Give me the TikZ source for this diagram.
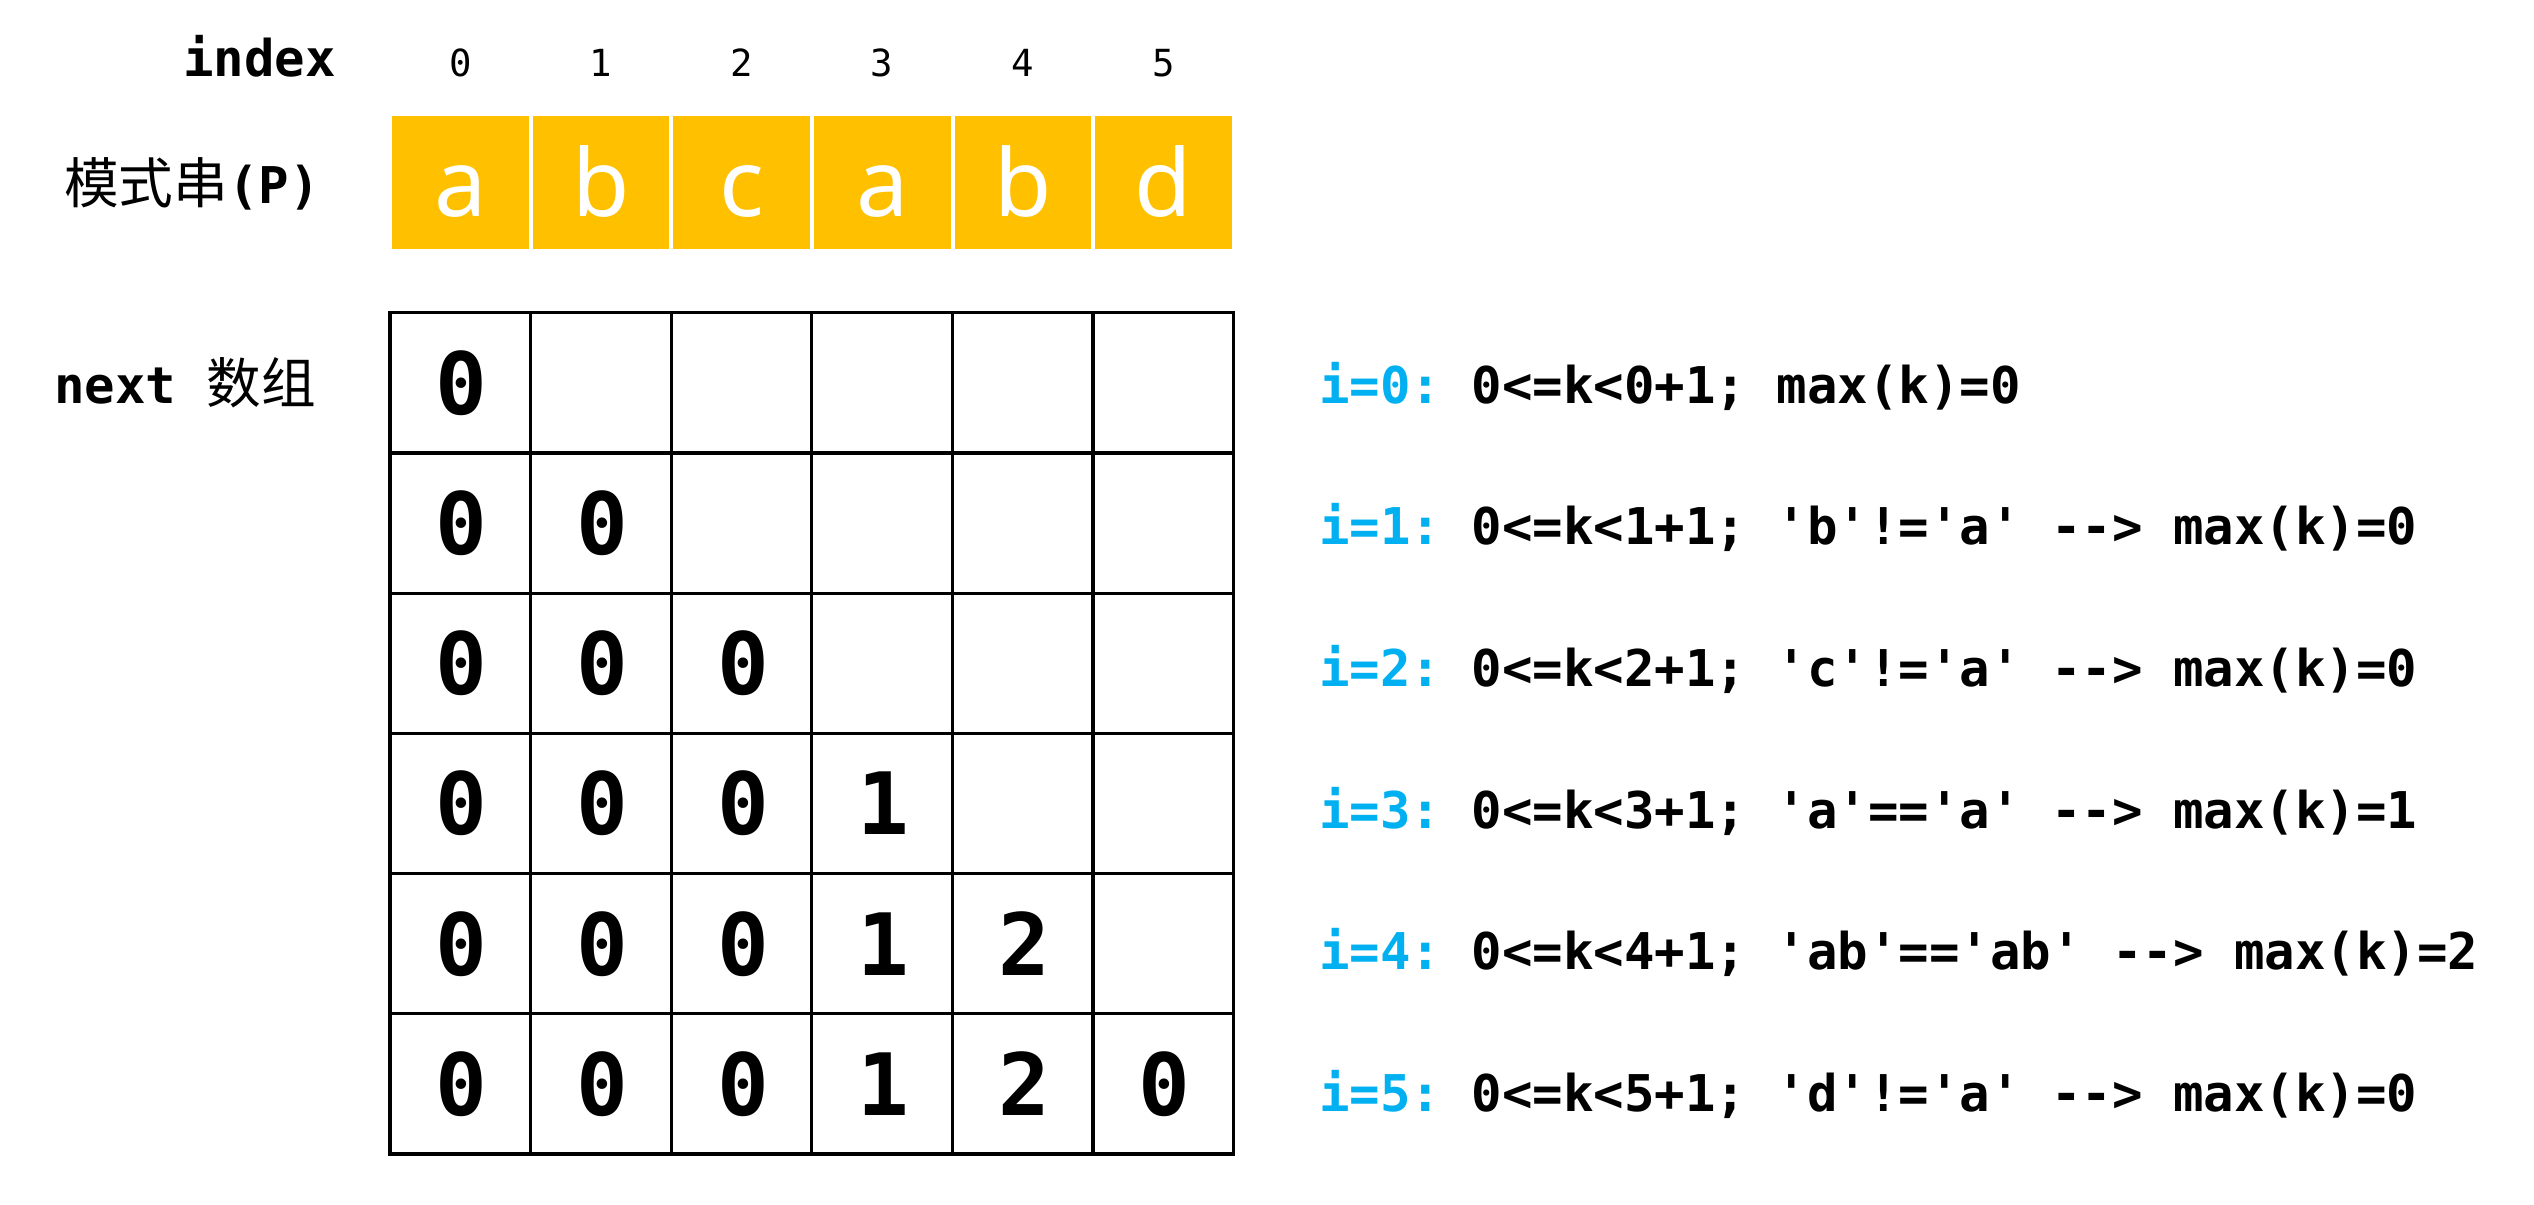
\documentclass[tikz,border=0pt]{standalone}
\usepackage{fontspec}
\setmainfont{Noto Sans}
\setmonofont{DejaVu Sans Mono}
\newfontfamily\cjkfont{Noto Sans CJK SC}
\definecolor{pgold}{HTML}{FFC000}
\definecolor{pblue}{HTML}{00B0F0}
\tikzset{
  gridline/.style={line width=2.4pt, draw=black},
  ycell/.style={fill=pgold, draw=white, line width=3pt},
  yletter/.style={text=white, inner sep=0pt, anchor=base, font=\fontsize{70}{72}\selectfont},
  idxnum/.style={inner sep=0pt, anchor=base, font=\ttfamily\fontsize{28}{30}\selectfont},
  lbl/.style={inner sep=0pt, anchor=base west, font=\ttfamily\bfseries\fontsize{38}{40}\selectfont},
  gridnum/.style={inner sep=0pt, font=\ttfamily\bfseries\fontsize{64.5}{66}\selectfont},
  codeline/.style={inner sep=0pt, anchor=base west, font=\ttfamily\bfseries\fontsize{38}{40}\selectfont},
}
\newcommand{\cjktext}[1]{{\cjkfont\mdseries\fontsize{41}{43}\selectfont #1}}
\begin{document}
\begin{tikzpicture}[x=0.75pt,y=-0.75pt]
\useasboundingbox[fill=white] (0,0) rectangle (2534,1204);
% index row
\node[inner sep=0pt, anchor=base east, font=\ttfamily\bfseries\fontsize{38}{40}\selectfont] (idx) at (336,76) {index};
\foreach \c in {0,...,5}
  \node[idxnum] (i\c) at ({390+140.6*(\c+0.5)},76) {\c};
% pattern row
\node[lbl] (pat) at (64,203) {\cjktext{模式串}(P)};
\foreach \c/\ch in {0/a,1/b,2/c,3/a,4/b,5/d} {
  \path[ycell] ({390+140.67*\c},114) rectangle ({390+140.67*(\c+1)},250.7);
  \node[yletter] (p\c) at ({390+140.67*(\c+0.5)},216) {\ch};
}
% next label
\node[lbl] (nxt) at (54,403) {next \cjktext{数组}};
% grid
\draw[gridline] (390,312.7) rectangle (1233.6,1154);
\foreach \i in {1,...,5} {
  \draw[gridline] ({390+140.6*\i},312.7) -- ({390+140.6*\i},1154);
  \draw[gridline] (390,{312.7+140.22*\i}) -- (1233.6,{312.7+140.22*\i});
}
% numbers
\foreach \r in {0,...,5}
  \foreach \c/\v in {0/0,1/0,2/0,3/1,4/2,5/0} {
    \ifnum\c>\r\else
      \node[gridnum] (n\r\c) at ({390+140.6*(\c+0.5)+1.5},{312.7+140.22*(\r+0.5)}) {\v};
    \fi
  }
% explanations
\node[codeline] (s0) at (1319,{403+141.7*0}) {\textcolor{pblue}{i=0:} 0<=k<0+1; max(k)=0};
\node[codeline] (s1) at (1319,{403+141.7*1}) {\textcolor{pblue}{i=1:} 0<=k<1+1; 'b'!='a' --> max(k)=0};
\node[codeline] (s2) at (1319,{403+141.7*2}) {\textcolor{pblue}{i=2:} 0<=k<2+1; 'c'!='a' --> max(k)=0};
\node[codeline] (s3) at (1319,{403+141.7*3}) {\textcolor{pblue}{i=3:} 0<=k<3+1; 'a'=='a' --> max(k)=1};
\node[codeline] (s4) at (1319,{403+141.7*4}) {\textcolor{pblue}{i=4:} 0<=k<4+1; 'ab'=='ab' --> max(k)=2};
\node[codeline] (s5) at (1319,{403+141.7*5}) {\textcolor{pblue}{i=5:} 0<=k<5+1; 'd'!='a' --> max(k)=0};
\end{tikzpicture}
\end{document}
